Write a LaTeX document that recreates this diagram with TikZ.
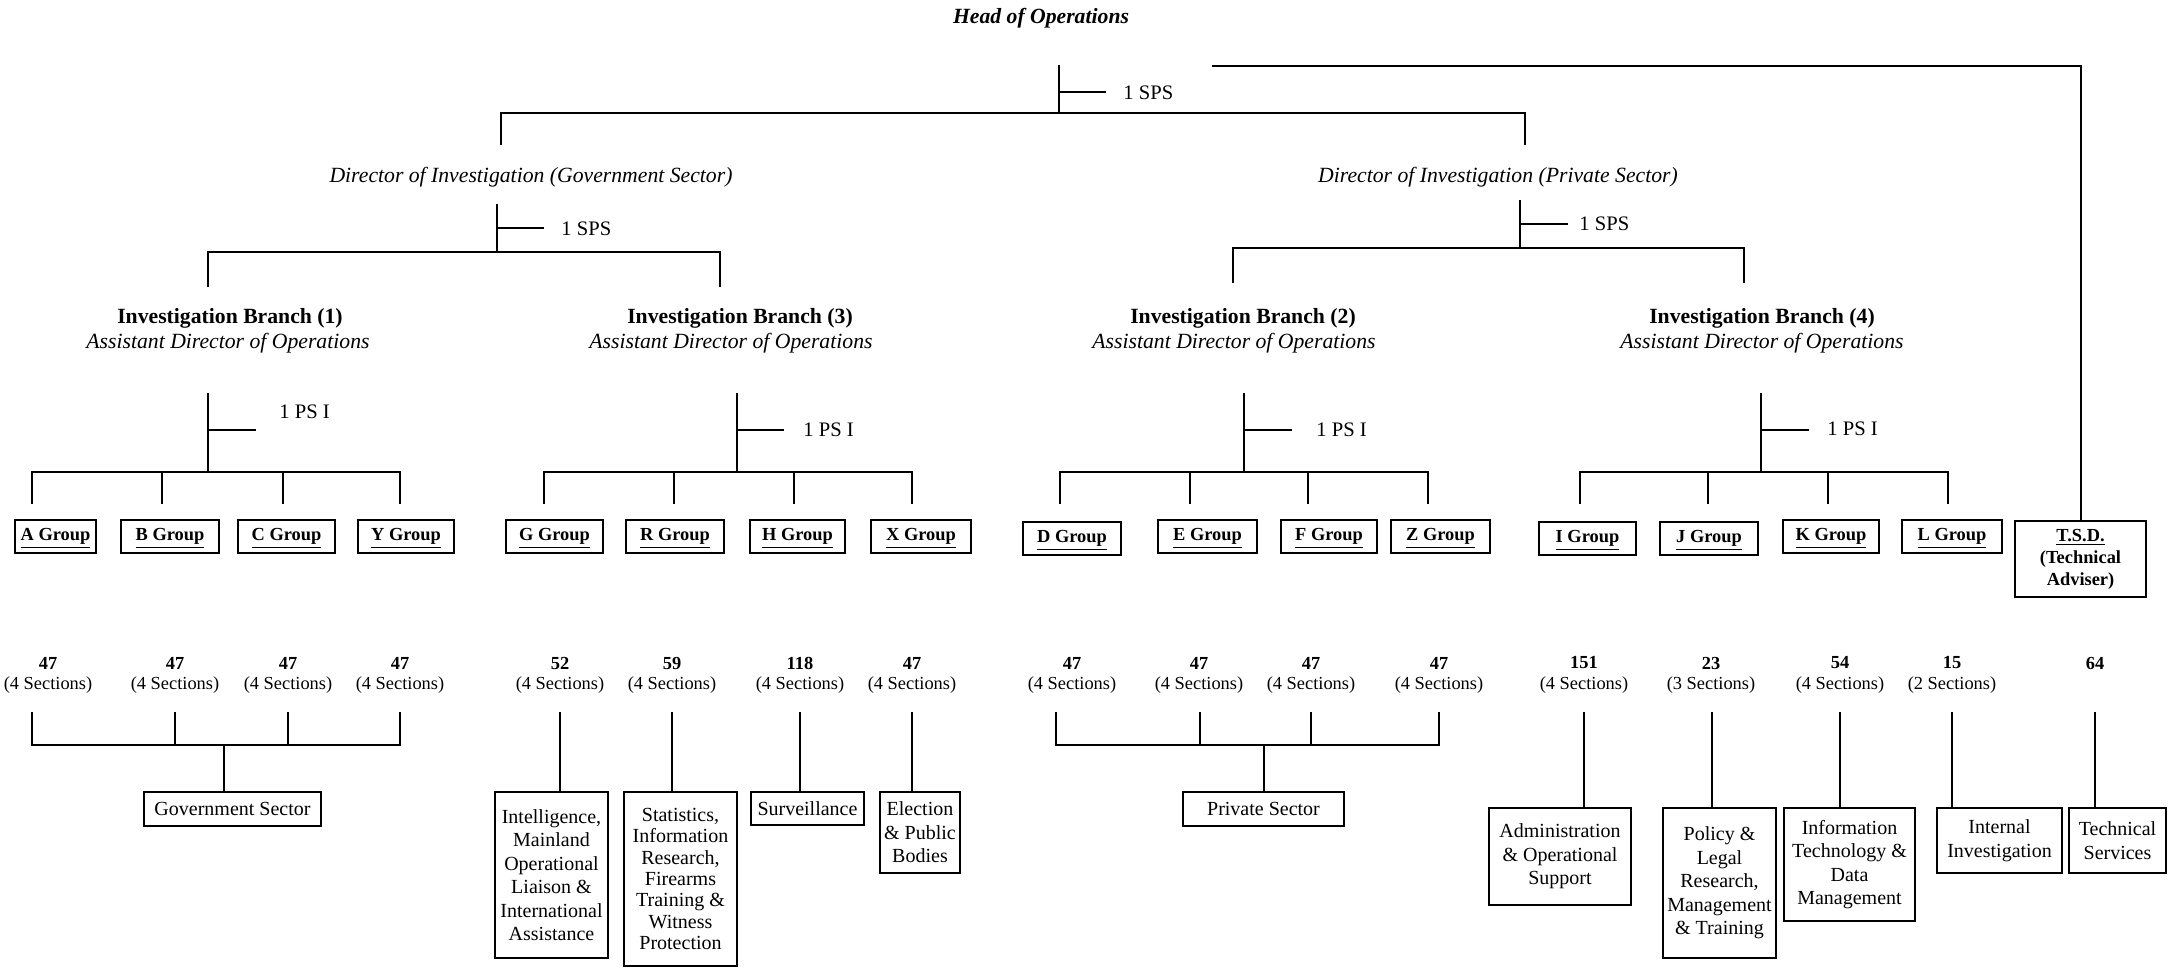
\documentclass[tikz,border=0pt]{standalone}
\usepackage{fontspec}
\setmainfont{Liberation Serif}
\begin{document}
\begin{tikzpicture}[x=0.5pt,y=-0.5pt]
\tikzset{
 ln/.style={line width=1pt},
 hd/.style={font=\fontsize{10.85}{13}\selectfont\bfseries\itshape, inner sep=0pt},
 dir/.style={font=\fontsize{10.85}{13}\selectfont\itshape, inner sep=0pt},
 br/.style={font=\fontsize{10.85}{13}\selectfont\bfseries, inner sep=0pt},
 cnt/.style={font=\fontsize{10.3}{12}\selectfont, inner sep=0pt, anchor=west},
 grp/.style={draw, line width=1pt, font=\fontsize{9.2}{11}\selectfont\bfseries, inner sep=0pt, minimum height=16.5pt, text height=6.5pt, text depth=2.5pt},
 num/.style={font=\fontsize{9.2}{11}\selectfont\bfseries, inner sep=0pt},
 sec/.style={font=\fontsize{9.2}{11}\selectfont, inner sep=0pt},
 ubox/.style={draw, line width=1pt, align=center, inner sep=0pt, font=\fontsize{10}{11.75}\selectfont},
}
\useasboundingbox (0,0) rectangle (2174,968);

% ---------- top ----------
\node[hd] (head) at (1041,18) {Head of Operations};
\coordinate (hv1) at (1059,65);
\coordinate (hv2) at (1059,113);
\coordinate (ht) at (1059,92);
\draw[ln] (hv1) -- (hv2);
\draw[ln] (ht) -- ++(47,0);
\node[cnt] (sps0) at (1123,93) {1 SPS};
\coordinate (tb1) at (501,145);
\coordinate (tb2) at (1525,145);
\draw[ln] (tb1) -- (501,113) -- (1525,113) -- (tb2);

% T.S.D.
\node[draw, line width=1pt, inner sep=0pt, minimum width=65.5pt, minimum height=38pt, align=center, font=\fontsize{9.2}{11}\selectfont\bfseries] (tsd) at (2080.5,559) {\underline{T.S.D.}\\(Technical\\Adviser)};
\coordinate (tsdstart) at (1212,66);
\draw[ln] (tsdstart) -- (tsdstart -| tsd.north) -- (tsd.north);

% ---------- directors ----------
\node[dir] (dirgov) at (531,177) {Director of Investigation (Government Sector)};
\node[dir] (dirpriv) at (1498,177) {Director of Investigation (Private Sector)};

\coordinate (gv1) at (497,204);
\coordinate (gv2) at (497,252);
\draw[ln] (gv1) -- (gv2);
\draw[ln] (497,228) -- ++(47,0);
\node[cnt] (sps1) at (561,229) {1 SPS};
\draw[ln] (208,287) -- (208,252) -- (720,252) -- (720,287);

\coordinate (pv1) at (1520,200);
\coordinate (pv2) at (1520,248);
\draw[ln] (pv1) -- (pv2);
\draw[ln] (1520,224) -- ++(48,0);
\node[cnt] (sps2) at (1579,224) {1 SPS};
\draw[ln] (1233,283) -- (1233,248) -- (1744,248) -- (1744,283);

% ---------- branches ----------
\node[br] (b1) at (230,318) {Investigation Branch (1)};
\node[dir] (a1) at (228,343) {Assistant Director of Operations};
\node[br] (b3) at (740,318) {Investigation Branch (3)};
\node[dir] (a3) at (731,343) {Assistant Director of Operations};
\node[br] (b2) at (1243,318) {Investigation Branch (2)};
\node[dir] (a2) at (1234,343) {Assistant Director of Operations};
\node[br] (b4) at (1762,318) {Investigation Branch (4)};
\node[dir] (a4) at (1762,343) {Assistant Director of Operations};

% branch 1
\draw[ln] (208,393) -- (208,472);
\draw[ln] (208,430) -- ++(48,0);
\node[cnt] (ps1) at (279,412) {1 PS I};
\draw[ln] (32,504) -- (32,472) -- (400,472) -- (400,504);
\draw[ln] (162,472) -- (162,504);
\draw[ln] (283,472) -- (283,504);
% branch 3
\draw[ln] (737,393) -- (737,472);
\draw[ln] (737,430) -- ++(47,0);
\node[cnt] (ps3) at (803,430) {1 PS I};
\draw[ln] (544,504) -- (544,472) -- (912,472) -- (912,504);
\draw[ln] (674,472) -- (674,504);
\draw[ln] (794,472) -- (794,504);
% branch 2
\draw[ln] (1244,393) -- (1244,472);
\draw[ln] (1244,430) -- ++(48,0);
\node[cnt] (ps2) at (1316,430) {1 PS I};
\draw[ln] (1060,504) -- (1060,472) -- (1428,472) -- (1428,504);
\draw[ln] (1190,472) -- (1190,504);
\draw[ln] (1308,472) -- (1308,504);
% branch 4
\draw[ln] (1761,393) -- (1761,472);
\draw[ln] (1761,430) -- ++(48,0);
\node[cnt] (ps4) at (1827,429) {1 PS I};
\draw[ln] (1580,504) -- (1580,472) -- (1948,472) -- (1948,504);
\draw[ln] (1708,472) -- (1708,504);
\draw[ln] (1828,472) -- (1828,504);

% ---------- groups ----------
\node[grp, minimum width=40.5pt] (ga) at (55.5,536.5) {\underline{A Group}};
\node[grp, minimum width=49pt] (gb) at (170,536.5) {\underline{B Group}};
\node[grp, minimum width=48.5pt] (gc) at (286.5,536.5) {\underline{C Group}};
\node[grp, minimum width=48pt] (gy) at (406,536.5) {\underline{Y Group}};
\node[grp, minimum width=48.5pt] (gg) at (554.5,536.5) {\underline{G Group}};
\node[grp, minimum width=49pt] (gr) at (675,536.5) {\underline{R Group}};
\node[grp, minimum width=47.5pt] (gh) at (797.5,536.5) {\underline{H Group}};
\node[grp, minimum width=50pt] (gx) at (921,536.5) {\underline{X Group}};
\node[grp, minimum width=49pt] (gd) at (1072,538.5) {\underline{D Group}};
\node[grp, minimum width=49.5pt] (ge) at (1207.5,536.5) {\underline{E Group}};
\node[grp, minimum width=48pt] (gf) at (1329,536.5) {\underline{F Group}};
\node[grp, minimum width=49.5pt] (gz) at (1440.5,536.5) {\underline{Z Group}};
\node[grp, minimum width=48.5pt] (gi) at (1587.5,538.5) {\underline{I Group}};
\node[grp, minimum width=49pt] (gj) at (1709,538.5) {\underline{J Group}};
\node[grp, minimum width=48pt] (gk) at (1831,536.5) {\underline{K Group}};
\node[grp, minimum width=50pt] (gl) at (1952,536.5) {\underline{L Group}};

% ---------- numbers ----------
\foreach \x/\n/\s [count=\i] in {48/47/4, 175/47/4, 288/47/4, 400/47/4,
  560/52/4, 672/59/4, 800/118/4, 912/47/4,
  1072/47/4, 1199/47/4, 1311/47/4, 1439/47/4,
  1584/151/4, 1711/23/3, 1840/54/4, 1952/15/2}{
  \node[num] (n\i) at (\x,663) {\n};
  \node[sec] (s\i) at (\x,685) {(\s\ Sections)};
}
\node[num] (n17) at (2095,663) {64};

% ---------- lower boxes ----------
\node[ubox, minimum width=88.5pt, minimum height=17pt] (gov) at (232.5,809) {Government Sector};
\node[ubox, minimum width=56.5pt, minimum height=83pt] (intel) at (551.5,875) {Intelligence,\\Mainland\\Operational\\Liaison \&\\International\\Assistance};
\node[ubox, minimum width=56.5pt, minimum height=87pt, font=\fontsize{10}{10.7}\selectfont] (stats) at (680.5,879) {Statistics,\\Information\\Research,\\Firearms\\Training \&\\Witness\\Protection};
\node[ubox, minimum width=56.5pt, minimum height=16.5pt] (surv) at (807.5,808.5) {Surveillance};
\node[ubox, minimum width=40pt, minimum height=40.5pt] (elect) at (920,832.5) {Election\\\& Public\\Bodies};
\node[ubox, minimum width=80.5pt, minimum height=17pt] (priv) at (1263.5,809) {Private Sector};
\node[ubox, minimum width=71pt, minimum height=48.5pt] (admin) at (1560,856.5) {Administration\\\& Operational\\Support};
\node[ubox, minimum width=56.5pt, minimum height=75pt] (policy) at (1719.5,883) {Policy \&\\Legal\\Research,\\Management\\\& Training};
\node[ubox, minimum width=65.5pt, minimum height=56.5pt] (itm) at (1849.5,864.5) {Information\\Technology \&\\Data\\Management};
\node[ubox, minimum width=62.5pt, minimum height=32.5pt] (internal) at (1999.5,840.5) {Internal\\Investigation};
\node[ubox, minimum width=48.5pt, minimum height=32.5pt] (tech) at (2117.5,840.5) {Technical\\Services};

% ---------- lower connectors ----------
% government sector
\draw[ln] (32,712) -- (32,745) -- (400,745) -- (400,712);
\draw[ln] (175,712) -- (175,745);
\draw[ln] (288,712) -- (288,745);
\coordinate (govj) at (224,745);
\draw[ln] (govj) -- (govj |- gov.north);
% branch 3 units
\foreach \x/\b in {560/intel, 672/stats, 800/surv, 912/elect}{
  \coordinate (c\b) at (\x,712);
  \draw[ln] (c\b) -- (c\b |- \b.north);
}
% private sector
\draw[ln] (1056,712) -- (1056,745) -- (1439,745) -- (1439,712);
\draw[ln] (1200,712) -- (1200,745);
\draw[ln] (1311,712) -- (1311,745);
\coordinate (privj) at (1264,745);
\draw[ln] (privj) -- (privj |- priv.north);
% branch 4 units
\foreach \x/\b in {1584/admin, 1712/policy, 1840/itm, 1952/internal, 2095/tech}{
  \coordinate (c\b) at (\x,712);
  \draw[ln] (c\b) -- (c\b |- \b.north);
}
\end{tikzpicture}
\end{document}
